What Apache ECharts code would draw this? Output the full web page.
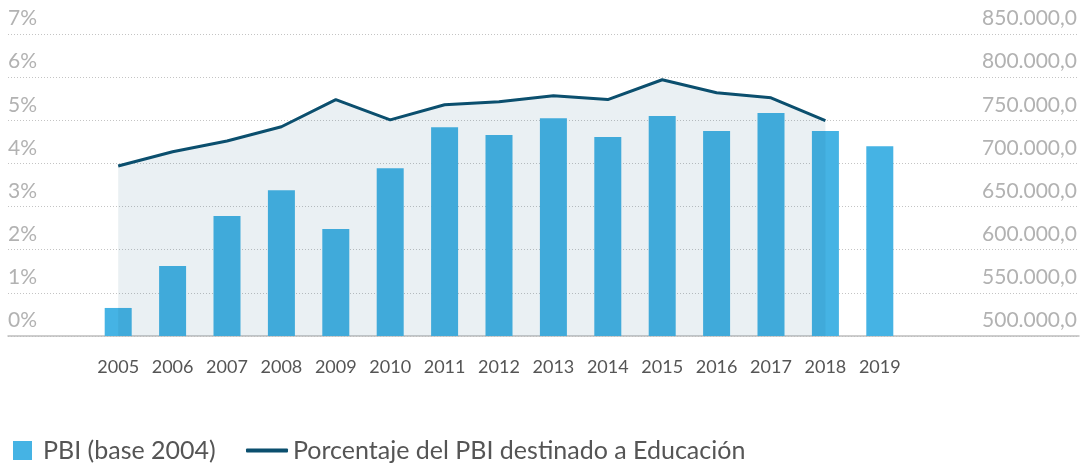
<!DOCTYPE html>
<html>
<head>
<meta charset="utf-8">
<script src="https://cdn.jsdelivr.net/npm/echarts@6/dist/echarts.min.js"></script>
<style>
  html, body { margin: 0; padding: 0; background: #fff; }
  #chart { width: 1084px; height: 466px; }
</style>
</head>
<body>
<div id="chart"></div>
<script>
// años del eje horizontal
const years = ["2005", "2006", "2007", "2008", "2009", "2010", "2011", "2012",
  "2013", "2014", "2015", "2016", "2017", "2018", "2019"];
// PBI (base 2004), eje derecho
const pbi = [532500, 581000, 639000, 669000, 624000, 694500, 742000, 733000,
  752500, 730500, 755000, 737500, 758500, 737500, 720000];
// % del PBI destinado a Educación, eje izquierdo (hasta 2018)
const educ = [3.94, 4.27, 4.52, 4.85, 5.48, 5.01, 5.36, 5.43,
  5.57, 5.48, 5.94, 5.64, 5.52, 4.99];

const pctTicks = { min: 0, max: 7, interval: 1 };
const pbiTicks = { min: 500000, max: 850000, interval: 50000 };

const barName = "PBI (base 2004)";
const lineName = "Porcentaje del PBI destinado a Educación";

function fmtPbi(v) {
  return String(v).replace(/\B(?=(\d{3})+(?!\d))/g, ".") + ",0";
}

const chart = echarts.init(document.getElementById("chart"));
const labelStyle = {
  inside: true,
  color: "#b2b2b2",
  fontSize: 21,
  fontFamily: "Lato",
  verticalAlign: "bottom",
  padding: [0, 0, 5, 0],
};

const option = {
  animation: false,
  textStyle: { fontFamily: "Lato" },
  grid: [
    // rejilla completa para las líneas guía y etiquetas
    { left: 8, right: 5, top: 34, bottom: 130 },
    // rejilla para barras y línea
    { left: 91, right: 177, top: 34, bottom: 130 },
  ],
  legend: [
    {
      data: [barName],
      left: 8,
      top: 433,
      icon: "rect",
      itemWidth: 19,
      itemHeight: 19,
      textStyle: { color: "#555", fontSize: 25, padding: [0, 0, 0, 6] },
    },
    {
      data: [lineName],
      left: 241,
      top: 433,
      icon: "roundRect",
      itemWidth: 42,
      itemHeight: 4,
      textStyle: { color: "#555", fontSize: 25, padding: [0, 0, 0, 0] },
    },
  ],
  xAxis: [
    {
      gridIndex: 0,
      type: "value",
      min: 0,
      max: 1,
      axisLine: { show: true, lineStyle: { color: "#bdbdbd", width: 1.5 } },
      axisTick: { show: false },
      axisLabel: { show: false },
      splitLine: { show: false },
    },
    {
      gridIndex: 1,
      type: "category",
      data: years,
      axisLine: { show: false },
      axisTick: { show: false },
      axisLabel: { color: "#555", fontSize: 18, margin: 22 },
    },
  ],
  yAxis: [
    {
      gridIndex: 0,
      type: "value",
      position: "left",
      ...pctTicks,
      axisLine: { show: false },
      axisTick: { show: false },
      axisLabel: { ...labelStyle, margin: 0, formatter: "{value}%" },
      splitLine: { lineStyle: { color: "#c4c4c4", type: [1, 2], width: 1 } },
    },
    {
      gridIndex: 0,
      type: "value",
      position: "right",
      ...pbiTicks,
      axisLine: { show: false },
      axisTick: { show: false },
      axisLabel: { ...labelStyle, margin: 2, formatter: fmtPbi },
      splitLine: { show: false },
    },
    { gridIndex: 1, type: "value", ...pctTicks, show: false },
    { gridIndex: 1, type: "value", ...pbiTicks, show: false },
  ],
  series: [
    {
      name: barName,
      type: "bar",
      xAxisIndex: 1,
      yAxisIndex: 3,
      data: pbi,
      barWidth: 27,
      itemStyle: { color: "#45b3e4" },
    },
    {
      name: lineName,
      type: "line",
      xAxisIndex: 1,
      yAxisIndex: 2,
      data: educ,
      symbol: "none",
      lineStyle: { color: "#0b4f6e", width: 3 },
      itemStyle: { color: "#0b4f6e" },
      areaStyle: { color: "rgba(22,88,122,0.13)", origin: "start" },
    },
  ],
};
chart.setOption(option);
</script>
</body>
</html>
